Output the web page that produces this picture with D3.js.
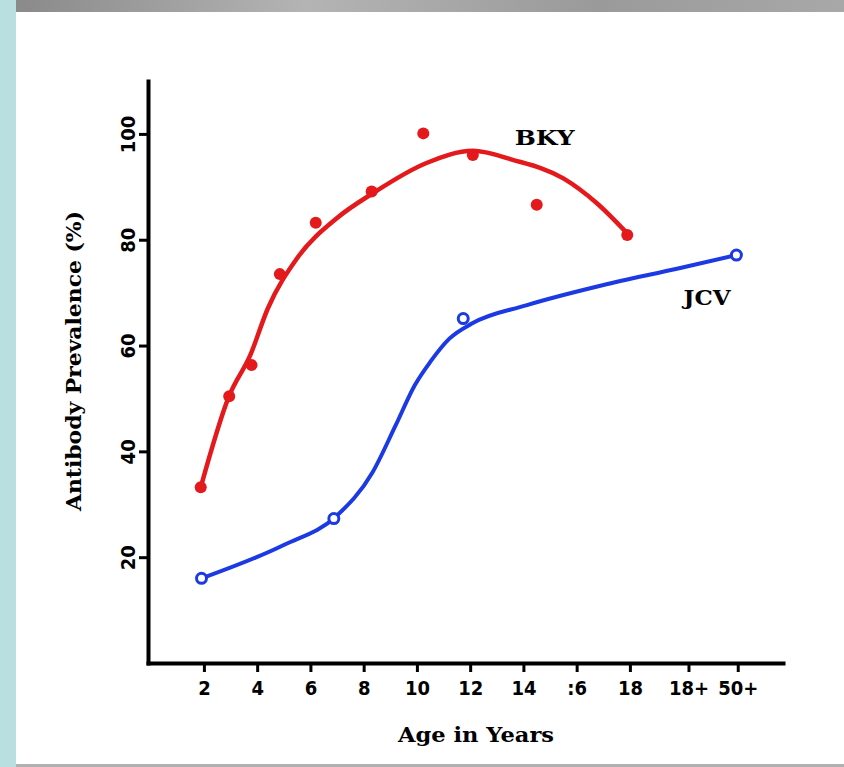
<!DOCTYPE html>
<html>
<head>
<meta charset="utf-8">
<script src="https://cdn.jsdelivr.net/npm/d3@7"></script>
<style>
  html, body { margin: 0; padding: 0; background: #b9dfe1; }
  svg { display: block; }
  .tick text { font-family: "Liberation Sans Narrow", "DejaVu Sans Condensed", "Roboto", sans-serif; font-weight: bold; }
  .title { font-family: "DejaVu Serif", "Liberation Serif", serif; font-weight: bold; }
</style>
</head>
<body>
<div id="chart"></div>
<script>
// tick labels (x positions of the age categories, "18+" and "50+" sit after 18)
var xTickPos = [2, 4, 6, 8, 10, 12, 14, 16, 18, 20.2, 22.05];
var xTickLabels = ["2", "4", "6", "8", "10", "12", "14", ":6", "18", "18+", "50+"];
var yTicks = [20, 40, 60, 80, 100];

// BKY observed points (filled)
var bkyAge = [1.88, 2.95, 3.79, 4.85, 6.2, 8.3, 10.24, 12.1, 14.5, 17.9];
var bkyVal = [33.2, 50.4, 56.3, 73.5, 83.2, 89.1, 100.1, 96.0, 86.6, 80.9];
// BKY fitted curve
var bkyCurveAge = [1.88, 2.94, 3.75, 4.4, 5.5, 7.0, 8.35, 10.36, 12.1, 13.6, 15.5, 16.76, 17.9];
var bkyCurveVal = [33.2, 50.4, 58.3, 67.0, 76.5, 84.1, 88.8, 94.5, 96.8, 95.1, 91.6, 86.9, 81.2];

// JCV observed points (open)
var jcvAge = [1.91, 6.88, 11.74, 22.0];
var jcvVal = [16.0, 27.3, 65.1, 77.1];
// JCV fitted curve
var jcvCurveAge = [1.91, 5.0, 6.96, 8.33, 9.2, 9.92, 10.5, 11.22, 12.08, 14.1, 16.97, 19.85, 22.0];
var jcvCurveVal = [16.0, 22.3, 27.7, 36.0, 44.9, 52.5, 56.9, 61.3, 64.2, 67.6, 71.4, 74.6, 77.1];

var red = "#e3191c", blue = "#1b3ae4";

var W = 844, H = 767;
var margin = {top: 81, left: 148},
    width = 635,
    height = 582;

var root = d3.select("#chart").append("svg")
  .attr("width", W)
  .attr("height", H);

// page frame: blue strip, grey top bar, white panel
var grad = root.append("defs").append("linearGradient").attr("id", "bar");
grad.append("stop").attr("offset", "0%").attr("stop-color", "#8a8a8a");
grad.append("stop").attr("offset", "35%").attr("stop-color", "#b4b4b4");
grad.append("stop").attr("offset", "70%").attr("stop-color", "#9a9a9a");
grad.append("stop").attr("offset", "100%").attr("stop-color", "#a8a8a8");
root.append("rect").attr("x", 16).attr("y", 0).attr("width", W - 16).attr("height", 12).attr("fill", "url(#bar)");
root.append("rect").attr("x", 16).attr("y", 12).attr("width", W - 16).attr("height", 752).attr("fill", "#fff");
root.append("rect").attr("x", 16).attr("y", 764).attr("width", W - 16).attr("height", 3).attr("fill", "#b0b0b0");

var svg = root.append("g")
  .attr("transform", "translate(" + margin.left + "," + margin.top + ")");

var x = d3.scaleLinear().domain([-0.1, 23.75]).range([0, width]);
var y = d3.scaleLinear().domain([0, 110]).range([height, 0]);

// X axis
var xAxis = svg.append("g")
  .attr("transform", "translate(0," + height + ")")
  .call(d3.axisBottom(x)
    .tickValues(xTickPos)
    .tickFormat(function(d, i) { return xTickLabels[i]; })
    .tickSize(9)
    .tickSizeOuter(0)
    .tickPadding(9));
xAxis.selectAll("text").attr("font-size", 20).attr("fill", "#000");

// Y axis
var yAxis = svg.append("g")
  .call(d3.axisLeft(y)
    .tickValues(yTicks)
    .tickSize(9)
    .tickSizeOuter(0));
yAxis.selectAll(".tick text")
  .attr("font-size", 20)
  .attr("fill", "#000")
  .attr("transform", "rotate(-90)")
  .attr("x", 0)
  .attr("y", -20)
  .attr("dy", "0.35em")
  .attr("text-anchor", "middle");

svg.selectAll(".domain").attr("stroke", "#000").attr("stroke-width", 4).attr("stroke-linecap", "square");
svg.selectAll(".tick line").attr("stroke", "#000").attr("stroke-width", 3);

// curves
var line = d3.line()
  .x(function(d) { return x(d[0]); })
  .y(function(d) { return y(d[1]); })
  .curve(d3.curveMonotoneX);

svg.append("path")
  .datum(d3.zip(bkyCurveAge, bkyCurveVal))
  .attr("fill", "none")
  .attr("stroke", red)
  .attr("stroke-width", 4.5)
  .attr("d", line);

svg.append("path")
  .datum(d3.zip(jcvCurveAge, jcvCurveVal))
  .attr("fill", "none")
  .attr("stroke", blue)
  .attr("stroke-width", 4)
  .attr("d", line);

// points
svg.selectAll("bkydots")
  .data(d3.zip(bkyAge, bkyVal))
  .enter()
  .append("circle")
    .attr("cx", function(d) { return x(d[0]); })
    .attr("cy", function(d) { return y(d[1]); })
    .attr("r", 6)
    .attr("fill", red);

svg.selectAll("jcvdots")
  .data(d3.zip(jcvAge, jcvVal))
  .enter()
  .append("circle")
    .attr("cx", function(d) { return x(d[0]); })
    .attr("cy", function(d) { return y(d[1]); })
    .attr("r", 5)
    .attr("fill", "#fff")
    .attr("stroke", blue)
    .attr("stroke-width", 3);

// labels
svg.append("text").attr("class", "title")
  .attr("x", x(14.8)).attr("y", y(97.9))
  .attr("text-anchor", "middle")
  .attr("font-size", 20)
  .attr("textLength", 60)
  .attr("lengthAdjust", "spacingAndGlyphs")
  .text("BKY");

svg.append("text").attr("class", "title")
  .attr("x", x(20.9)).attr("y", y(67.6))
  .attr("text-anchor", "middle")
  .attr("font-size", 20)
  .attr("textLength", 47)
  .attr("lengthAdjust", "spacingAndGlyphs")
  .text("JCV");

svg.append("text").attr("class", "title")
  .attr("x", x(12.22)).attr("y", height + 79)
  .attr("text-anchor", "middle")
  .attr("font-size", 20)
  .attr("textLength", 156)
  .attr("lengthAdjust", "spacingAndGlyphs")
  .text("Age in Years");

svg.append("text").attr("class", "title")
  .attr("transform", "translate(-67," + (361 - margin.top) + ") rotate(-90)")
  .attr("text-anchor", "middle")
  .attr("font-size", 20)
  .attr("textLength", 300)
  .attr("lengthAdjust", "spacingAndGlyphs")
  .text("Antibody Prevalence (%)");
</script>
</body>
</html>
